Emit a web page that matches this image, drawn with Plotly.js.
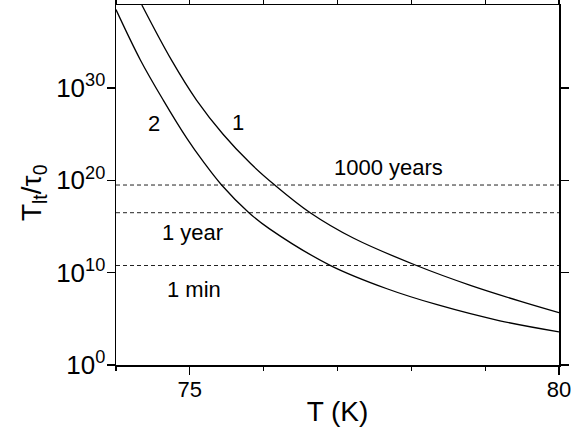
<!DOCTYPE html>
<html>
<head>
<meta charset="utf-8">
<script src="https://cdn.plot.ly/plotly-3.0.1.min.js"></script>
<style>html,body{margin:0;padding:0;background:#fff;}#chart{width:576px;height:433px;}</style>
</head>
<body>
<div id="chart"></div>
<script>
// Curve 1
var curve1T = [74.35, 74.75, 75.09, 75.45, 75.82, 76.15, 76.63, 77.22, 78.07, 78.8, 79.47, 80.0];
var curve1Y = [1.0e39, 1.12e33, 5.01e28, 1.0e25, 7.08e21, 3.16e19, 3.16e16, 5.37e13, 6.03e10, 4.27e8, 8.32e6, 4.68e5];
// Curve 2
var curve2T = [74.0, 74.33, 74.64, 74.96, 75.18, 75.43, 75.8, 76.08, 76.9, 77.67, 78.35, 79.2, 80.0];
var curve2Y = [3.16e38, 1.12e33, 5.01e28, 3.55e24, 1.12e22, 3.16e19, 3.16e16, 5.62e14, 6.31e10, 1.82e8, 3.39e6, 6.17e4, 3.89e3];
// Reference times (T_lt / tau_0)
var refNames = ["1000 years", "1 year", "1 min"];
var refValues = [3.15e19, 3.15e16, 6.0e10];
var xRange = [74, 80];
// Tick labels
var xTickVals = [75, 80];
var xTickText = ["75", "80"];
var yTickVals = [1, 1e10, 1e20, 1e30];
var yTickText = ["10<sup>0</sup>", "10<sup>10</sup>", "10<sup>20</sup>", "10<sup>30</sup>"];
// Curve labels
var curveLabels = ["1", "2"];

var traces = [];
for (var i = 0; i < refValues.length; i++) {
  traces.push({x: xRange, y: [refValues[i], refValues[i]], mode: 'lines',
    line: {color: '#222', width: 1, dash: '4px,3px'}, hoverinfo: 'skip', showlegend: false});
}
traces.push({x: curve1T, y: curve1Y, mode: 'lines', line: {color: '#000', width: 1.3, shape: 'spline', smoothing: 1}, showlegend: false});
traces.push({x: curve2T, y: curve2Y, mode: 'lines', line: {color: '#000', width: 1.3, shape: 'spline', smoothing: 1}, showlegend: false});

var annFont = {family: 'Liberation Sans, Arial, sans-serif', size: 22, color: '#000'};
var annotations = [
  {x: 75.65, y: 26.3, text: curveLabels[0]},
  {x: 74.51, y: 26.2, text: curveLabels[1]},
  {x: 77.69, y: 21.45, text: refNames[0]},
  {x: 75.03, y: 14.36, text: refNames[1]},
  {x: 75.06, y: 8.18, text: refNames[2]}
].map(function(a){ return Object.assign({xref: 'x', yref: 'y', showarrow: false, font: annFont, xanchor: 'center', yanchor: 'middle'}, a); });

var layout = {
  width: 576, height: 433,
  margin: {l: 116, r: 17, t: 5, b: 68, pad: 0},
  paper_bgcolor: '#fff', plot_bgcolor: '#fff',
  font: {family: 'Liberation Sans, Arial, sans-serif', color: '#000'},
  showlegend: false,
  xaxis: {
    range: xRange, showgrid: false, zeroline: false,
    showline: true, linecolor: '#000', linewidth: 1.5, mirror: 'ticks',
    ticks: 'outside', ticklen: 8, tickwidth: 1.3, tickcolor: '#000',
    tickmode: 'array', tickvals: xTickVals, ticktext: xTickText,
    tickfont: {size: 22}, ticklabelstandoff: -4,
    minor: {ticks: 'outside', ticklen: 4, tickwidth: 1.3, tickcolor: '#000', dtick: 1, tick0: 74, showgrid: false},
    title: {text: 'T (K)', font: {size: 28}, standoff: 0}
  },
  yaxis: {
    type: 'log', range: [0, 39], showgrid: false, zeroline: false,
    showline: true, linecolor: '#000', linewidth: 1.5, mirror: 'ticks',
    ticks: 'outside', ticklen: 8, tickwidth: 1.3, tickcolor: '#000',
    tickmode: 'array', tickvals: yTickVals, ticktext: yTickText,
    tickfont: {size: 26}, ticklabelstandoff: -4,
    title: {text: 'T<sub>lt</sub>/τ<sub>0</sub>&nbsp;&nbsp;', font: {size: 28}, standoff: 6}
  },
  annotations: annotations
};

Plotly.newPlot('chart', traces, layout, {staticPlot: true, displayModeBar: false});
</script>
</body>
</html>
